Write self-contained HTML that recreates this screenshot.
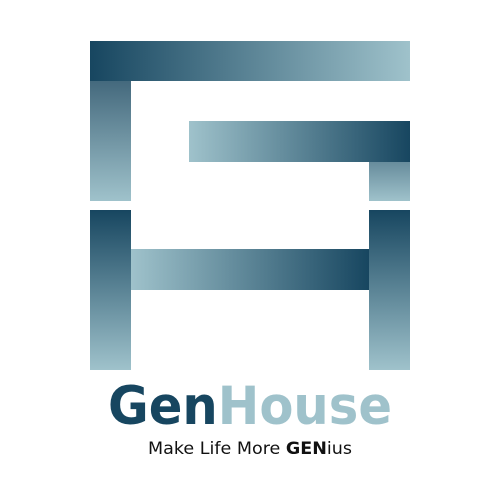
<!DOCTYPE html>
<html><head><meta charset="utf-8"><style>html,body{margin:0;padding:0;background:#fff;}svg{display:block}</style></head>
<body>
<svg width="500" height="500" viewBox="0 0 500 500">
<defs>
<linearGradient id="hDL" x1="0" x2="1" y1="0" y2="0"><stop offset="0" stop-color="#174660"/><stop offset="1" stop-color="#9fc2cb"/></linearGradient>
<linearGradient id="hLD" x1="0" x2="1" y1="0" y2="0"><stop offset="0" stop-color="#9fc2cb"/><stop offset="1" stop-color="#174660"/></linearGradient>
<linearGradient id="vDL" x1="0" x2="0" y1="0" y2="1"><stop offset="0" stop-color="#174660"/><stop offset="1" stop-color="#9fc2cb"/></linearGradient>
<linearGradient id="vML" x1="0" x2="0" y1="0" y2="1"><stop offset="0" stop-color="#44697d"/><stop offset="1" stop-color="#9fc2cb"/></linearGradient>
<linearGradient id="vSL" x1="0" x2="0" y1="0" y2="1"><stop offset="0" stop-color="#678c9c"/><stop offset="1" stop-color="#9fc2cb"/></linearGradient>
</defs>
<rect x="90" y="41" width="320" height="40" fill="url(#hDL)"/>
<rect x="90" y="81" width="41" height="120" fill="url(#vML)"/>
<rect x="189" y="121" width="221" height="41" fill="url(#hLD)"/>
<rect x="369" y="162" width="41" height="39" fill="url(#vSL)"/>
<rect x="90" y="210" width="41" height="160" fill="url(#vDL)"/>
<rect x="369" y="210" width="41" height="160" fill="url(#vDL)"/>
<rect x="131" y="249" width="238" height="41" fill="url(#hLD)"/>
<text x="108" y="424" textLength="284" lengthAdjust="spacingAndGlyphs" font-family="DejaVu Sans, Liberation Sans, sans-serif" font-weight="bold" font-size="53"><tspan fill="#174660">Gen</tspan><tspan fill="#9fc2cb">House</tspan></text>
<text x="148" y="454" textLength="204" lengthAdjust="spacingAndGlyphs" font-family="DejaVu Sans, Liberation Sans, sans-serif" font-size="17" fill="#111">Make Life More <tspan font-weight="bold">GEN</tspan>ius</text>
</svg>
</body></html>
